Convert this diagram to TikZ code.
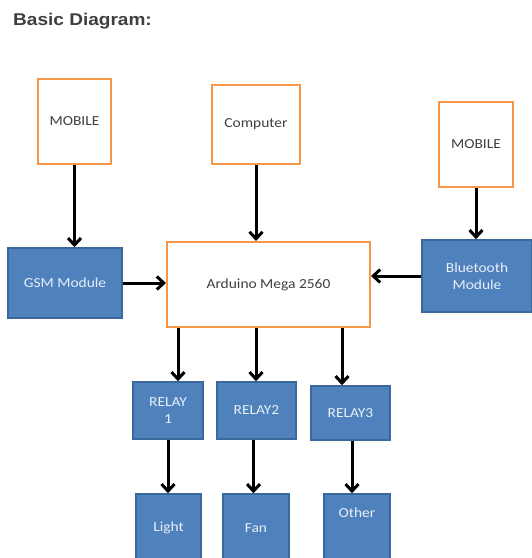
\documentclass[tikz,border=0pt]{standalone}
\usepackage{fontspec}
\usepackage{graphicx}
\setmainfont{Carlito}
\newfontfamily\titlefont{Liberation Sans}
\usetikzlibrary{arrows.meta}
\definecolor{orangeb}{HTML}{F79646}
\definecolor{bluef}{HTML}{4F81BD}
\definecolor{blued}{HTML}{3A679C}
\definecolor{txtgray}{HTML}{3F3F3F}
\definecolor{btxt}{HTML}{E9EFF8}
\newcommand{\hstr}[1]{\scalebox{1.12}[1]{#1}}
\tikzset{
  obox/.style={draw=orangeb, line width=2pt, fill=white, text=txtgray,
    font=\fontsize{13.8}{16.5}\selectfont, align=center, inner sep=0pt},
  bbox/.style={draw=blued, line width=1.5pt, fill=bluef, text=btxt,
    font=\fontsize{13.8}{17}\selectfont, align=center, inner sep=0pt},
  arr/.style={draw=black, line width=3pt, -{Straight Barb[length=7pt,width=13pt,line width=3pt]}}
}
\begin{document}
\begin{tikzpicture}[x=1pt,y=-1pt]
\clip (0,0) rectangle (532,558);
\fill[white] (0,0) rectangle (532,558);
\node[anchor=west, text=txtgray, font=\titlefont\bfseries\fontsize{17}{20}\selectfont, inner sep=0pt] (title) at (13,21.5) {\hstr{Basic Diagram:}};
% top row
\node[obox, minimum width=73pt, minimum height=85pt] (m1) at (74.5,121.5) {\hstr{MOBILE}};
\node[obox, minimum width=88pt, minimum height=79pt] (comp) at (256,124.5) {\hstr{Computer}};
\node[obox, minimum width=74pt, minimum height=85pt] (m2) at (476,144.5) {\hstr{MOBILE}};
% middle row
\node[bbox, minimum width=114pt, minimum height=70pt] (gsm) at (65,283) {\hstr{GSM Module}};
\node[obox, minimum width=203pt, minimum height=85pt] (ard) at (268.5,284.5) {\hstr{Arduino Mega 2560}};
\node[bbox, minimum width=110pt, minimum height=72pt] (bt) at (477,276) {\hstr{Bluetooth}\\\hstr{Module}};
% relays
\node[bbox, minimum width=70pt, minimum height=57pt] (r1) at (168,410.5) {\hstr{RELAY}\\\hstr{1}};
\node[bbox, minimum width=79pt, minimum height=57pt] (r2) at (256.5,410.5) {\hstr{RELAY2}};
\node[bbox, minimum width=79pt, minimum height=54pt] (r3) at (350.5,413) {\hstr{RELAY3}};
% loads
\node[bbox, minimum width=65pt, minimum height=68pt] (light) at (168.5,528) {\hstr{Light}};
\node[bbox, minimum width=66pt, minimum height=68pt] (fan) at (256,528) {\hstr{Fan}};
\node[bbox, minimum width=66pt, minimum height=68pt] (other) at (357,528) {};
\node[text=btxt, font=\fontsize{13.8}{17}\selectfont, inner sep=0pt] (othert) at (357,513) {\hstr{Other}};
% connectors
\draw[arr] (m1.south) -- (m1.south |- gsm.north);
\draw[arr] (comp.south) -- (comp.south |- ard.north);
\draw[arr] (m2.south) -- (m2.south |- bt.north);
\draw[arr] (gsm.east) -- (gsm.east -| ard.west);
\draw[arr] (bt.west) -- (bt.west -| ard.east);
\draw[arr] ([xshift=-90.5pt]ard.south) -- ([xshift=-90.5pt]ard.south |- r1.north);
\draw[arr] ([xshift=-12.5pt]ard.south) -- ([xshift=-12.5pt]ard.south |- r2.north);
\draw[arr] ([xshift=73.5pt]ard.south) -- ([xshift=73.5pt]ard.south |- r3.north);
\draw[arr] (r1.south) -- (r1.south |- light.north);
\draw[arr] ([xshift=-3pt]r2.south) -- ([xshift=-3pt]r2.south |- fan.north);
\draw[arr] ([xshift=1.5pt]r3.south) -- ([xshift=1.5pt]r3.south |- other.north);
\end{tikzpicture}
\end{document}
